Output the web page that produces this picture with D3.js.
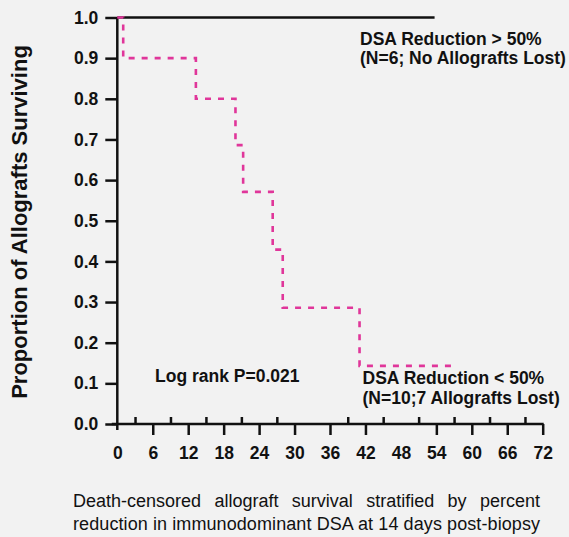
<!DOCTYPE html>
<html>
<head>
<meta charset="utf-8">
<script src="https://cdn.jsdelivr.net/npm/d3@7"></script>
<style>
  html, body { margin: 0; padding: 0; background: #f2f2f2; }
  svg { display: block; }
  text { font-family: Arial, "Liberation Sans", sans-serif; fill: #111; }
</style>
</head>
<body>
<svg id="chart" width="569" height="537"></svg>
<script>
// Kaplan-Meier survival, months since biopsy
const lowTimes = [0, 1, 13.3, 20, 21.3, 26.3, 28, 41];
const lowSurvival = [1, 0.9, 0.8, 0.686, 0.571, 0.429, 0.286, 0.143];
const lowFollowUpEnd = 57.5;

const highTimes = [0, 53.7];
const highSurvival = [1, 1];

const yTickValues = [0, 0.1, 0.2, 0.3, 0.4, 0.5, 0.6, 0.7, 0.8, 0.9, 1.0];
const xTickLabels = [0, 6, 12, 18, 24, 30, 36, 42, 48, 54, 60, 66, 72];
const xMajorTicks = [6, 12, 18, 24, 30, 36, 42, 54, 60, 66, 72];
const xMinorTicks = [3, 9, 15, 21, 27, 39, 45, 51, 57, 63, 69];

const yTitle = "Proportion of Allografts Surviving";
const captionLine1 = ["Death-censored", "allograft", "survival", "stratified", "by", "percent"];
const captionLine2 = "reduction in immunodominant DSA at 14 days post-biopsy";

const svg = d3.select("#chart");
const W = 569, H = 537;
const plot = { left: 117.3, right: 542.7, top: 17.5, bottom: 424 };

svg.append("rect").attr("width", W).attr("height", H).attr("fill", "#f2f2f2");

const x = d3.scaleLinear().domain([0, 72]).range([plot.left, plot.right]);
const y = d3.scaleLinear().domain([0, 1]).range([plot.bottom, plot.top]);

const boldFont = 17.5;

// y axis
const yAxis = svg.append("g")
  .attr("transform", `translate(${plot.left},0)`)
  .call(d3.axisLeft(y).tickValues(yTickValues).tickFormat(d3.format(".1f"))
    .tickSize(12).tickPadding(7));
yAxis.select(".domain").remove();
yAxis.selectAll(".tick line").attr("stroke", "#111").attr("stroke-width", 2.5);
yAxis.selectAll(".tick text").attr("font-size", boldFont).attr("font-weight", "bold")
  .style("font-family", "Arial, 'Liberation Sans', sans-serif").attr("fill", "#111");
svg.append("line")
  .attr("x1", plot.left).attr("x2", plot.left)
  .attr("y1", y(1)).attr("y2", plot.bottom + 6)
  .attr("stroke", "#111").attr("stroke-width", 2.5);

// x axis: baseline, major ticks below, minor ticks above
svg.append("line")
  .attr("x1", plot.left - 5.5).attr("x2", x(72) + 1)
  .attr("y1", plot.bottom).attr("y2", plot.bottom)
  .attr("stroke", "#111").attr("stroke-width", 2.5);

const xMajor = svg.append("g").attr("transform", `translate(0,${plot.bottom})`)
  .call(d3.axisBottom(x).tickValues(xMajorTicks).tickSize(11).tickFormat(""));
xMajor.select(".domain").remove();
xMajor.selectAll(".tick line").attr("stroke", "#111").attr("stroke-width", 2.5);

const xMinor = svg.append("g").attr("transform", `translate(0,${plot.bottom})`)
  .call(d3.axisBottom(x).tickValues(xMinorTicks).tickSize(-7).tickFormat(""));
xMinor.select(".domain").remove();
xMinor.selectAll(".tick line").attr("stroke", "#111").attr("stroke-width", 2.5);

const xLabels = svg.append("g").attr("transform", `translate(0,${plot.bottom})`)
  .call(d3.axisBottom(x).tickValues(xTickLabels).tickSize(0).tickPadding(23));
xLabels.select(".domain").remove();
xLabels.selectAll(".tick text").attr("font-size", boldFont).attr("font-weight", "bold")
  .style("font-family", "Arial, 'Liberation Sans', sans-serif").attr("fill", "#111");

// survival curves
const step = d3.line().x(d => x(d[0])).y(d => y(d[1])).curve(d3.curveStepAfter);

const highPts = highTimes.map((t, i) => [t, highSurvival[i]]);
svg.append("path").datum(highPts)
  .attr("d", step).attr("fill", "none")
  .attr("stroke", "#111").attr("stroke-width", 2.5);

const lowPts = lowTimes.map((t, i) => [t, lowSurvival[i]]);
lowPts.push([lowFollowUpEnd, lowSurvival[lowSurvival.length - 1]]);
svg.append("path").datum(lowPts)
  .attr("d", step).attr("fill", "none")
  .attr("stroke", "#e0369a").attr("stroke-width", 2.6)
  .attr("stroke-dasharray", "6,7");

// annotations
const notes = [
  { text: "DSA Reduction > 50%", x: 360, y: 44.5 },
  { text: "(N=6; No Allografts Lost)", x: 360, y: 64 },
  { text: "DSA Reduction < 50%", x: 362.5, y: 383.5 },
  { text: "(N=10;7 Allografts Lost)", x: 362.5, y: 403.5 },
  { text: "Log rank P=0.021", x: 155, y: 382 }
];
svg.selectAll("text.note").data(notes).enter().append("text")
  .attr("class", "note")
  .attr("x", d => d.x).attr("y", d => d.y)
  .attr("font-size", boldFont).attr("font-weight", "bold")
  .text(d => d.text);

// y axis title
svg.append("text")
  .attr("transform", `translate(27,222) rotate(-90)`)
  .attr("text-anchor", "middle")
  .attr("font-size", 22).attr("font-weight", "bold")
  .text(yTitle);

// caption, first line justified across the block
const capLeft = 73, capRight = 540;
const words = svg.append("g").selectAll("text").data(captionLine1).enter().append("text")
  .attr("y", 507).attr("font-size", 18).text(d => d);
const widths = [];
words.each(function () { widths.push(this.getComputedTextLength()); });
const gap = (capRight - capLeft - d3.sum(widths)) / (captionLine1.length - 1);
let cx = capLeft;
words.each(function (d, i) { d3.select(this).attr("x", cx); cx += widths[i] + gap; });

svg.append("text")
  .attr("x", capLeft).attr("y", 530).attr("font-size", 18)
  .attr("textLength", capRight - capLeft).attr("lengthAdjust", "spacing")
  .text(captionLine2);
</script>
</body>
</html>
